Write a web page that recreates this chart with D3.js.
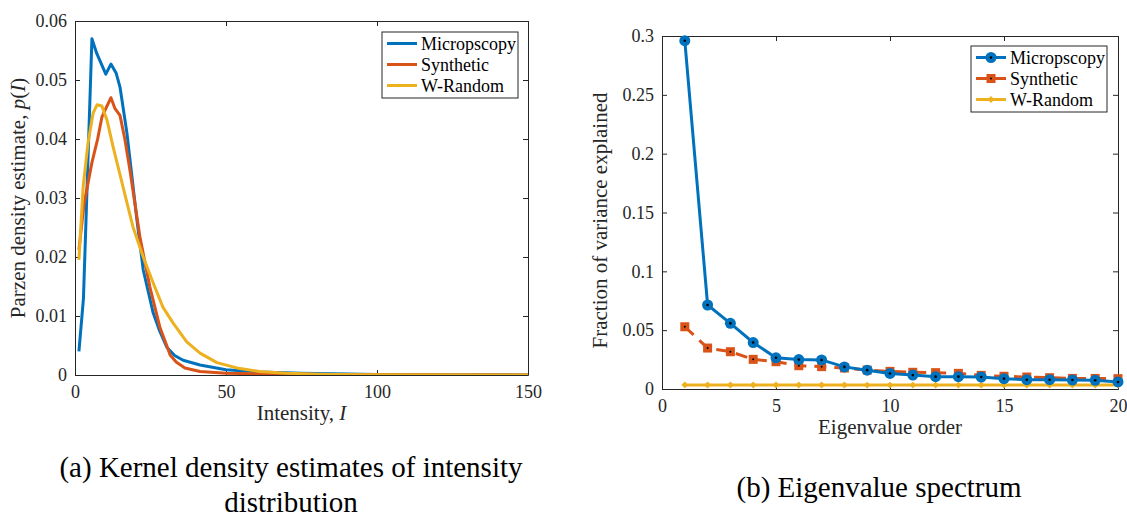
<!DOCTYPE html>
<html>
<head>
<meta charset="utf-8">
<script src="https://cdn.jsdelivr.net/npm/d3@7"></script>
<style>
  body { margin: 0; background: #fff; }
  svg, svg text { font-family: "Liberation Serif", "Times New Roman", serif; }
</style>
</head>
<body>
<div id="graph"></div>
<script>
  // (a) kernel density estimates
  const microI = [1.3, 2.8, 5.6, 7.2, 10.2, 11.9, 13.6, 14.9, 17.2, 20.5, 22.6, 25.9, 28.0, 30.4, 33, 35.8, 41.4, 50, 61, 75, 100, 125, 150];
  const microP = [0.004, 0.013, 0.057, 0.0545, 0.051, 0.0527, 0.0512, 0.0488, 0.041, 0.0263, 0.0178, 0.0105, 0.0075, 0.0047, 0.0033, 0.0025, 0.0017, 0.0009, 0.0005, 0.0003, 0.0001, 0.00005, 0.00002];
  const synthI = [1.3, 3, 5.6, 7.5, 8.9, 10.5, 11.9, 13.2, 14.9, 16.5, 18.2, 21.5, 24.8, 28.1, 30, 31.5, 33.5, 36.4, 41.4, 50, 60, 80, 150];
  const synthP = [0.0212, 0.029, 0.036, 0.040, 0.0437, 0.0455, 0.047, 0.0452, 0.044, 0.040, 0.0347, 0.0234, 0.0149, 0.0081, 0.0055, 0.0034, 0.0022, 0.0012, 0.0006, 0.0003, 0.0002, 0.0001, 0];
  const randI = [1.3, 2.7, 4.3, 6, 7.3, 8.9, 10.6, 12.6, 15.9, 19.2, 22.6, 25.9, 29.1, 32.5, 37, 41.4, 47, 53.6, 61, 70, 85, 100, 150];
  const randP = [0.0195, 0.0319, 0.0393, 0.0444, 0.0458, 0.0456, 0.0432, 0.0387, 0.0319, 0.0251, 0.020, 0.0156, 0.0115, 0.0088, 0.0056, 0.0037, 0.0021, 0.0012, 0.0006, 0.0003, 0.0001, 0.00005, 0];

  // (b) eigenvalue spectrum
  const order = d3.range(1, 21);
  const microEig = [0.296, 0.0714, 0.0558, 0.0395, 0.0265, 0.025, 0.0247, 0.0188, 0.016, 0.0132, 0.0118, 0.0105, 0.0105, 0.0102, 0.0088, 0.0079, 0.0079, 0.0076, 0.0074, 0.006];
  const synthEig = [0.0529, 0.0348, 0.0317, 0.0252, 0.0232, 0.0198, 0.019, 0.0178, 0.0161, 0.015, 0.0142, 0.0139, 0.0133, 0.0116, 0.0108, 0.0102, 0.0096, 0.009, 0.009, 0.0088];
  const randEig = [0.0035, 0.0034, 0.0034, 0.0034, 0.0034, 0.0034, 0.0034, 0.0034, 0.0033, 0.0033, 0.0033, 0.0033, 0.0033, 0.0033, 0.0033, 0.0033, 0.0033, 0.0033, 0.0033, 0.0033];

  const names = ['Micropscopy', 'Synthetic', 'W-Random'];
  const colors = ['#0072BD', '#D95319', '#EDB120'];

  const xTicksA = [0, 50, 100, 150];
  const yTicksA = [0, 0.01, 0.02, 0.03, 0.04, 0.05, 0.06];
  const xTicksB = [0, 5, 10, 15, 20];
  const yTicksB = [0, 0.05, 0.1, 0.15, 0.2, 0.25, 0.3];

  const serif = '"Liberation Serif", "Times New Roman", serif';

  const svg = d3.select('#graph').append('svg')
      .attr('width', 1127).attr('height', 517)
      .attr('font-family', serif);

  const axisColor = '#262626';

  // draws a boxed matlab-style axes, ticks pointing inwards on all four sides
  const drawBox = (x, y, xTicks, yTicks, fmtY) => {
    const [x0, x1] = x.range();
    const [y0, y1] = y.range();
    const g = svg.append('g');
    g.append('g').attr('transform', `translate(0,${y0})`)
      .call(d3.axisBottom(x).tickValues(xTicks).tickSizeInner(-5).tickSizeOuter(0).tickPadding(10).tickFormat(d3.format('d')));
    g.append('g').attr('transform', `translate(0,${y1})`)
      .call(d3.axisTop(x).tickValues(xTicks).tickSizeInner(-5).tickSizeOuter(0).tickFormat(''));
    g.append('g').attr('transform', `translate(${x0},0)`)
      .call(d3.axisLeft(y).tickValues(yTicks).tickSizeInner(-5).tickSizeOuter(0).tickPadding(8).tickFormat(fmtY));
    g.append('g').attr('transform', `translate(${x1},0)`)
      .call(d3.axisRight(y).tickValues(yTicks).tickSizeInner(-5).tickSizeOuter(0).tickFormat(''));
    g.selectAll('g').attr('font-family', serif);
    g.selectAll('.domain').attr('stroke', axisColor);
    g.selectAll('.tick line').attr('stroke', axisColor);
    g.selectAll('.tick text').attr('fill', axisColor).attr('font-size', 18).attr('font-family', serif);
    return g;
  };

  const drawLegend = (bx, by, bw, bh, markers, dashed) => {
    const lg = svg.append('g');
    lg.append('rect').attr('x', bx).attr('y', by).attr('width', bw).attr('height', bh)
      .attr('fill', '#fff').attr('stroke', axisColor).attr('stroke-width', 1);
    names.forEach((n, i) => {
      const cy = by + 11.5 + i * 21;
      lg.append('line').attr('x1', bx + 5).attr('x2', bx + 35).attr('y1', cy).attr('y2', cy)
        .attr('stroke', colors[i]).attr('stroke-width', 3)
        .attr('stroke-dasharray', dashed && i === 1 ? '12,6' : null);
      if (markers) markers(lg, bx + 20, cy, i);
      lg.append('text').attr('x', bx + 39).attr('y', cy + 6).attr('font-size', 18)
        .attr('fill', '#000').text(n);
    });
  };

  // ---------- (a) ----------
  const xA = d3.scaleLinear().domain([0, 150]).range([75, 528]);
  const yA = d3.scaleLinear().domain([0, 0.06]).range([375, 21]);
  drawBox(xA, yA, xTicksA, yTicksA, d => d === 0 ? '0' : d3.format('.2f')(d));

  const lineA = d3.line().x(d => xA(d[0])).y(d => yA(d[1]));
  const seriesA = [d3.zip(microI, microP), d3.zip(synthI, synthP), d3.zip(randI, randP)];
  svg.append('defs').append('clipPath').attr('id', 'clipA')
    .append('rect').attr('x', 75).attr('y', 21).attr('width', 453).attr('height', 354);
  svg.append('g').attr('clip-path', 'url(#clipA)')
    .selectAll('path').data(seriesA).join('path')
      .attr('d', lineA).attr('fill', 'none')
      .attr('stroke', (d, i) => colors[i]).attr('stroke-width', 3)
      .attr('stroke-linejoin', 'round');

  drawLegend(382, 32, 136, 66, null, false);

  svg.append('text').attr('x', xA(75)).attr('y', 420).attr('text-anchor', 'middle').attr('font-size', 21)
    .attr('fill', axisColor)
    .call(t => t.append('tspan').text('Intensity, '))
    .call(t => t.append('tspan').attr('font-style', 'italic').text('I'));
  svg.append('text').attr('transform', `translate(25,${yA(0.03)}) rotate(-90)`)
    .attr('text-anchor', 'middle').attr('font-size', 21).attr('fill', axisColor)
    .call(t => t.append('tspan').text('Parzen density estimate, '))
    .call(t => t.append('tspan').attr('font-style', 'italic').text('p'))
    .call(t => t.append('tspan').text('('))
    .call(t => t.append('tspan').attr('font-style', 'italic').text('I'))
    .call(t => t.append('tspan').text(')'));

  // ---------- (b) ----------
  const xB = d3.scaleLinear().domain([0, 20]).range([662, 1118]);
  const yB = d3.scaleLinear().domain([0, 0.3]).range([389, 36]);
  drawBox(xB, yB, xTicksB, yTicksB, d => d === 0 ? '0' : d3.format('~g')(d));

  const lineB = d3.line().x((d, i) => xB(order[i])).y(d => yB(d));
  const seriesB = [microEig, synthEig, randEig];

  const drawMarker = (g, cx, cy, i) => {
    if (i === 0) {
      g.append('circle').attr('cx', cx).attr('cy', cy).attr('r', 5.5).attr('fill', colors[0]);
      g.append('circle').attr('cx', cx).attr('cy', cy).attr('r', 1.3).attr('fill', '#000');
    } else if (i === 1) {
      g.append('rect').attr('x', cx - 4.5).attr('y', cy - 4.5).attr('width', 9).attr('height', 9).attr('fill', colors[1]);
      g.append('circle').attr('cx', cx).attr('cy', cy).attr('r', 1).attr('fill', '#000');
    } else {
      g.append('path').attr('d', d3.symbol(d3.symbolDiamond2, 30)()).attr('transform', `translate(${cx},${cy})`).attr('fill', colors[2]);
    }
  };

  // draw W-Random first, then Synthetic, then Micropscopy on top
  [2, 1, 0].forEach(i => {
    svg.append('path').datum(seriesB[i]).attr('d', lineB).attr('fill', 'none')
      .attr('stroke', colors[i]).attr('stroke-width', 3)
      .attr('stroke-dasharray', i === 1 ? '12,8' : null);
    const mg = svg.append('g');
    seriesB[i].forEach((v, k) => drawMarker(mg, xB(order[k]), yB(v), i));
  });

  drawLegend(971, 46, 136, 66, drawMarker, true);

  svg.append('text').attr('x', xB(10)).attr('y', 434).attr('text-anchor', 'middle').attr('font-size', 21)
    .attr('fill', axisColor).text('Eigenvalue order');
  svg.append('text').attr('transform', `translate(607,${yB(0.15) + 8}) rotate(-90)`)
    .attr('text-anchor', 'middle').attr('font-size', 21).attr('fill', axisColor)
    .text('Fraction of variance explained');

  // ---------- captions ----------
  const cap = svg.append('g').attr('font-size', 29).attr('text-anchor', 'middle').attr('fill', '#000');
  cap.append('text').attr('x', 291).attr('y', 477).text('(a) Kernel density estimates of intensity');
  cap.append('text').attr('x', 291).attr('y', 512).text('distribution');
  cap.append('text').attr('x', 879).attr('y', 497).text('(b) Eigenvalue spectrum');
</script>
</body>
</html>
